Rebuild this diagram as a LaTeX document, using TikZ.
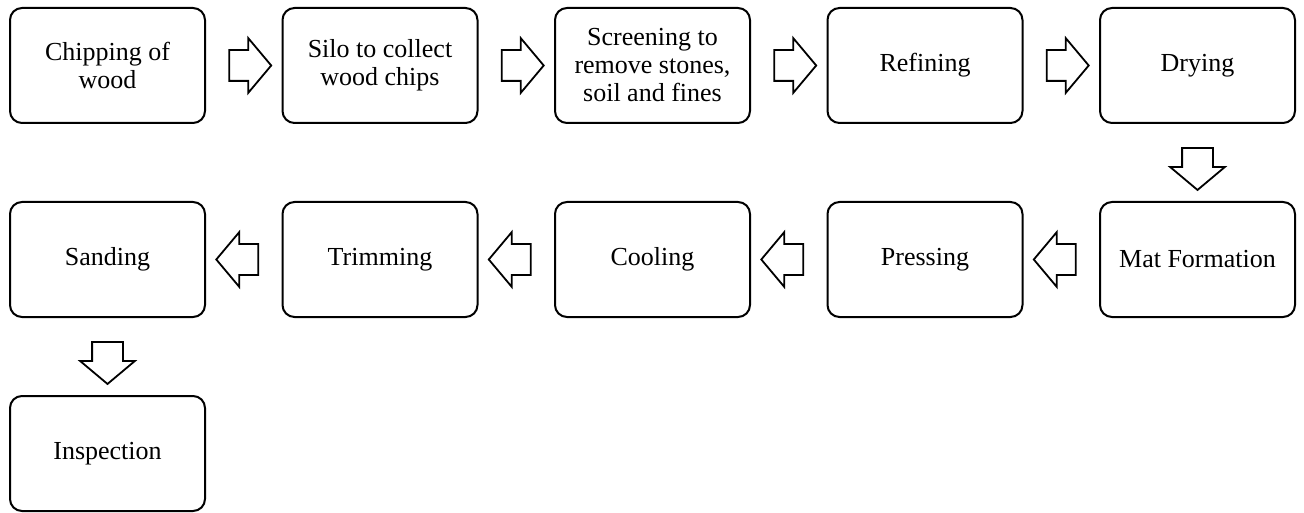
\documentclass[tikz,border=0pt]{standalone}
\usepackage{fontspec}
\setmainfont{Liberation Serif}
\usetikzlibrary{shapes.arrows,positioning,calc}

\begin{document}
\begin{tikzpicture}[x=1pt,y=-1pt,
  stage/.style={draw,line width=2pt,rounded corners=12pt,minimum width=195pt,
    minimum height=115pt,align=center,font=\fontsize{26}{28}\selectfont},
  blockarr/.style={draw,line width=1.8pt,single arrow,single arrow head extend=12pt,
    single arrow tip angle=100,inner xsep=0pt,inner ysep=14.5pt,minimum height=42pt},
  node distance=77pt and 75.5pt]
  \useasboundingbox (0,0) rectangle (1304,513);
  % first row, left to right
  \node[stage] (chip) at (107.5,65.5) {Chipping of\\wood};
  \node[stage,right=of chip] (silo) {Silo to collect\\wood chips};
  \node[stage,right=of silo] (screen) {Screening to\\remove stones,\\soil and fines};
  \node[stage,right=of screen] (refine) {Refining};
  \node[stage,right=of refine] (dry) {Drying};
  % second row, right to left
  \node[stage,below=of dry] (mat) {Mat Formation};
  \node[stage,left=of mat] (press) {Pressing};
  \node[stage,left=of press] (cool) {Cooling};
  \node[stage,left=of cool] (trim) {Trimming};
  \node[stage,left=of trim] (sand) {Sanding};
  \node[stage,below=of sand] (inspect) {Inspection};
  % block arrows between the stages
  \node[blockarr] (a1) at ($(chip.east)!.5!(silo.west)$) {};
  \node[blockarr] (a2) at ($(silo.east)!.5!(screen.west)$) {};
  \node[blockarr] (a3) at ($(screen.east)!.5!(refine.west)$) {};
  \node[blockarr] (a4) at ($(refine.east)!.5!(dry.west)$) {};
  \node[blockarr,rotate=-90] (a5) at ($(dry.south)!.5!(mat.north)$) {};
  \node[blockarr,rotate=180] (a6) at ($(mat.west)!.5!(press.east)$) {};
  \node[blockarr,rotate=180] (a7) at ($(press.west)!.5!(cool.east)$) {};
  \node[blockarr,rotate=180] (a8) at ($(cool.west)!.5!(trim.east)$) {};
  \node[blockarr,rotate=180] (a9) at ($(trim.west)!.5!(sand.east)$) {};
  \node[blockarr,rotate=-90] (a10) at ($(sand.south)!.5!(inspect.north)$) {};
\end{tikzpicture}
\end{document}
